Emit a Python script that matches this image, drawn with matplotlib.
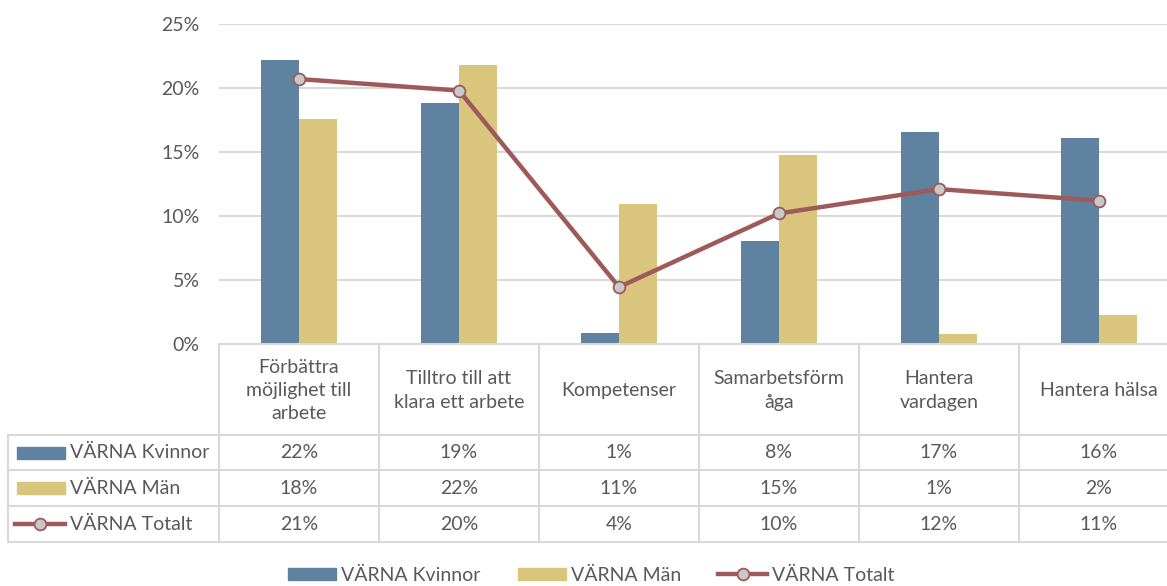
import numpy as np
import matplotlib
matplotlib.use("Agg")
import matplotlib.pyplot as plt
from matplotlib.lines import Line2D
from matplotlib.patches import Patch, Rectangle

plt.rcParams['font.family'] = ['Lato', 'DejaVu Sans']

# data
categories = ["Förbättra\nmöjlighet till\narbete", "Tilltro till att\nklara ett arbete", "Kompetenser",
              "Samarbetsförm\någa", "Hantera\nvardagen", "Hantera hälsa"]
kvinnor = [22.2, 18.8, 0.85, 8.05, 16.6, 16.1]
man = [17.6, 21.8, 10.9, 14.8, 0.75, 2.3]
totalt = [20.7, 19.8, 4.45, 10.2, 12.1, 11.2]
series_names = ["VÄRNA Kvinnor", "VÄRNA Män", "VÄRNA Totalt"]
yticks = [0, 5, 10, 15, 20, 25]

c_kv = "#5f82a0"
c_man = "#d9c57b"
c_tot = "#9e5a5a"
c_grid = "#d9d9d9"
c_text = "#595959"
fs = 14

W, H = 1167, 586
fig = plt.figure(figsize=(W / 100, H / 100), dpi=100)

# plot area in pixels: x 219..1179 (clipped on the right), y 24..344
x0, x1 = 219, 1179
ytop, ybot = 24, 344
ax = fig.add_axes([x0 / W, 1 - ybot / H, (x1 - x0) / W, (ybot - ytop) / H])
x = np.arange(len(categories))
bw = 0.24
ax.bar(x - bw / 2, kvinnor, bw, color=c_kv, zorder=2)
ax.bar(x + bw / 2, man, bw, color=c_man, zorder=2)
ax.plot(x, totalt, color=c_tot, lw=3.2, marker="o", ms=8.5, mfc="#c8c8c8",
        mec=c_tot, mew=1.3, zorder=3)
ax.set_xlim(-0.5, len(categories) - 0.5)
ax.set_ylim(0, 25)
ax.set_yticks(yticks)
ax.set_yticklabels([f"{v}%" for v in yticks], fontsize=fs, color=c_text)
ax.tick_params(axis="y", length=0, pad=14)
ax.set_xticks([])
ax.grid(axis="y", color=c_grid, lw=1.5, zorder=0)
for s in ax.spines.values():
    s.set_visible(False)

# data table below
tx0 = 8
row_y = [344, 435, 470, 506, 542]
tab = fig.add_axes([0, 0, 1, 1])
tab.set_xlim(0, W)
tab.set_ylim(H, 0)
tab.axis("off")
cw = (x1 - x0) / len(categories)
for i in range(len(categories) + 1):
    xx = x0 + i * cw
    tab.plot([xx, xx], [row_y[0], row_y[-1]], color=c_grid, lw=1.5)
tab.plot([tx0, tx0], [row_y[1], row_y[-1]], color=c_grid, lw=1.5)
tab.plot([x0, x1], [row_y[0], row_y[0]], color=c_grid, lw=1.5)
for yy in row_y[1:]:
    tab.plot([tx0, x1], [yy, yy], color=c_grid, lw=1.5)

for i, cat in enumerate(categories):
    tab.text(x0 + (i + 0.5) * cw, (row_y[0] + row_y[1]) / 2 + 1, cat, ha="center", va="center",
             fontsize=fs, color=c_text, linespacing=1.45)

vals = [kvinnor, man, totalt]
for r, (name, v) in enumerate(zip(series_names, vals)):
    yc = (row_y[r + 1] + row_y[r + 2]) / 2
    if r < 2:
        tab.add_patch(Rectangle((17, yc - 6), 48, 12, color=[c_kv, c_man][r]))
    else:
        tab.plot([15, 65], [yc, yc], color=c_tot, lw=3.2)
        tab.plot([40], [yc], marker="o", ms=8.5, mfc="#c8c8c8", mec=c_tot, mew=1.3)
    tab.text(70, yc, name, ha="left", va="center", fontsize=fs, color=c_text)
    for i, val in enumerate(v):
        tab.text(x0 + (i + 0.5) * cw, yc, f"{round(val):.0f}%", ha="center", va="center",
                 fontsize=fs, color=c_text)

handles = [Patch(color=c_kv), Patch(color=c_man),
           Line2D([], [], color=c_tot, lw=3.2, marker="o", ms=8.5, mfc="#c8c8c8", mec=c_tot, mew=1.3)]
fig.legend(handles, series_names, loc="center", bbox_to_anchor=(591 / W, 1 - 575 / H),
           ncol=3, frameon=False, fontsize=fs, handlelength=2.5, handleheight=0.6,
           columnspacing=1.9, handletextpad=0.25, labelcolor=c_text)

fig.savefig("out.png", dpi=100)
